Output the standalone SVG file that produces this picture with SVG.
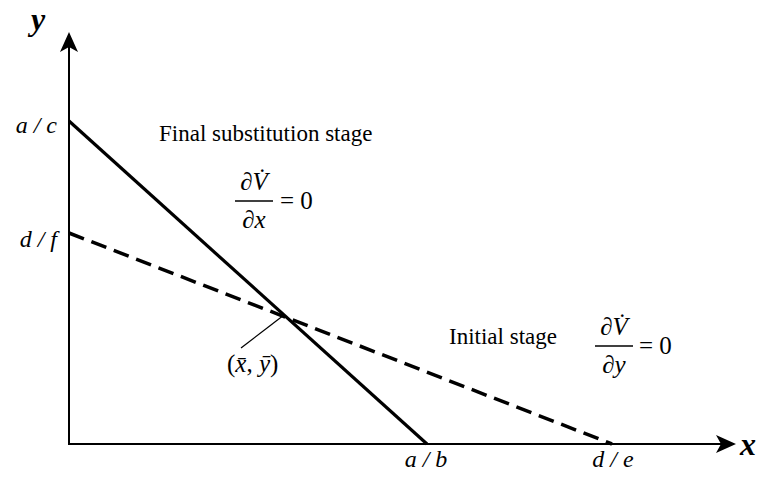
<svg xmlns="http://www.w3.org/2000/svg" width="765" height="481" viewBox="0 0 765 481">
<style>
text{font-family:"Liberation Serif","Times New Roman","DejaVu Serif",serif;fill:#000}
.it{font-style:italic}
.lab{font-size:24px;font-style:italic}
.ax{font-size:32px;font-style:italic;font-weight:bold}
.txt{font-size:23px}
.m{font-size:25px}
.axis{stroke:#000;stroke-width:2;fill:none}
.solid{stroke:#000;stroke-width:3.2;fill:none}
.dash{stroke:#000;stroke-width:3.5;fill:none;stroke-dasharray:16 8}
.thin{stroke:#000;stroke-width:1.3;fill:none}
</style>
<defs>
<marker id="ah" viewBox="0 0 20 18" refX="18" refY="9" markerWidth="20" markerHeight="18" markerUnits="userSpaceOnUse" orient="auto">
<path d="M0,0 L20,9 L0,18 L5,9 Z" fill="#000"/>
</marker>
</defs>
<g id="connectors">
<line id="yaxis" class="axis" x1="69" y1="445" x2="69" y2="34" marker-end="url(#ah)"/>
<line id="xaxis" class="axis" x1="68" y1="444" x2="734" y2="444" marker-end="url(#ah)"/>
<line id="final-line" class="solid" x1="69" y1="121" x2="427" y2="444"/>
<line id="initial-line" class="dash" x1="69" y1="233" x2="612" y2="444"/>
<line id="leader" class="thin" x1="284" y1="315" x2="241" y2="348"/>
</g>
<g id="axis-labels">
<text class="ax" x="31" y="30">y</text>
<text class="ax" x="740" y="455">x</text>
</g>
<g id="tick-labels">
<text class="lab" x="57" y="133" text-anchor="end">a / c</text>
<text class="lab" x="57" y="247" text-anchor="end">d / f</text>
<text class="lab" x="426" y="467" text-anchor="middle">a / b</text>
<text class="lab" x="613" y="467" text-anchor="middle">d / e</text>
</g>
<g id="final-stage">
<text class="txt" x="159" y="141">Final substitution stage</text>
<text class="m it" x="254" y="190" text-anchor="middle">∂V̇</text>
<line class="thin" x1="235" y1="201" x2="273" y2="201" style="stroke-width:1.5"/>
<text class="m it" x="254" y="228" text-anchor="middle">∂x</text>
<text class="m" x="280" y="209">= 0</text>
</g>
<g id="initial-stage">
<text class="txt" x="449" y="344">Initial stage</text>
<text class="m it" x="614" y="335" text-anchor="middle">∂V̇</text>
<line class="thin" x1="595" y1="346" x2="633" y2="346" style="stroke-width:1.5"/>
<text class="m it" x="614" y="373" text-anchor="middle">∂y</text>
<text class="m" x="639" y="354">= 0</text>
</g>
<g id="equilibrium">
<text class="m" x="227" y="372">(<tspan class="it">x̄</tspan>, <tspan class="it">ȳ</tspan>)</text>
</g>
</svg>
